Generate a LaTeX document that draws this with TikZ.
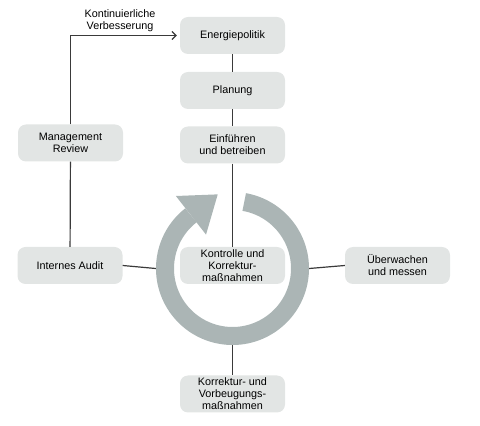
\documentclass[tikz,border=0pt]{standalone}
\usepackage{fontspec}
\setmainfont{Liberation Sans}
\usetikzlibrary{calc,arrows.meta}
\definecolor{boxgray}{HTML}{E2E5E4}
\definecolor{ringgray}{HTML}{ABB5B5}
\definecolor{linegray}{HTML}{3A3A3A}
\tikzset{
  stepbox/.style={rounded corners=8pt, fill=boxgray, minimum width=105pt, minimum height=37pt, align=center, inner sep=1pt, font=\fontsize{10.8}{12}\selectfont},
  conn/.style={draw=linegray, line width=1.2pt},
  lbl/.style={align=center, font=\fontsize{10.8}{12}\selectfont}
}
\begin{document}
\begin{tikzpicture}[x=1pt,y=1pt]
\useasboundingbox (0,0) rectangle (480,426);
% ring
\coordinate (c) at (232.5,157.5);
\node[circle, minimum size=153pt, inner sep=0pt] (ring) at (c) {};
\draw[ringgray, line width=18pt] ($(c)+(128:67.5)$) arc[start angle=128, end angle=440, radius=67.5];
\fill[ringgray] ($(c)+(128:92)$) -- ($(c)+(128:67.5)+(38:34)$) -- ($(c)+(128:43)$) -- cycle;
% boxes
\node[stepbox] (energie) at (232.5,390.5) {Energiepolitik};
\node[stepbox] (planung) at (232.5,335.5) {Planung};
\node[stepbox] (einf) at (232.5,281) {Einführen\\und betreiben};
\node[stepbox] (mgmt) at (70.5,283) {Management\\Review};
\node[stepbox] (audit) at (70,160.5) {Internes Audit};
\node[stepbox] (kontr) at (232.5,160.5) {Kontrolle und\\Korrektur-\\maßnahmen};
\node[stepbox] (ueber) at (397.5,160.5) {Überwachen\\und messen};
\node[stepbox] (korr) at (232.5,32) {Korrektur- und\\Vorbeugungs-\\maßnahmen};
\node[lbl] (kv) at (120,405) {Kontinuierliche\\Verbesserung};
% connectors
\draw[conn] (energie) -- (planung);
\draw[conn] (planung) -- (einf);
\draw[conn] (einf) -- (kontr);
\draw[conn] (mgmt) -- (audit);
\draw[conn] (audit.east) -- (ring.west);
\draw[conn] (ring.east) -- (ueber.west);
\draw[conn] (ring.south) -- (korr.north);
\draw[conn, -{Straight Barb[length=4pt,width=8pt]}, shorten >=3pt] (mgmt.north) |- (energie.west);
\end{tikzpicture}
\end{document}
